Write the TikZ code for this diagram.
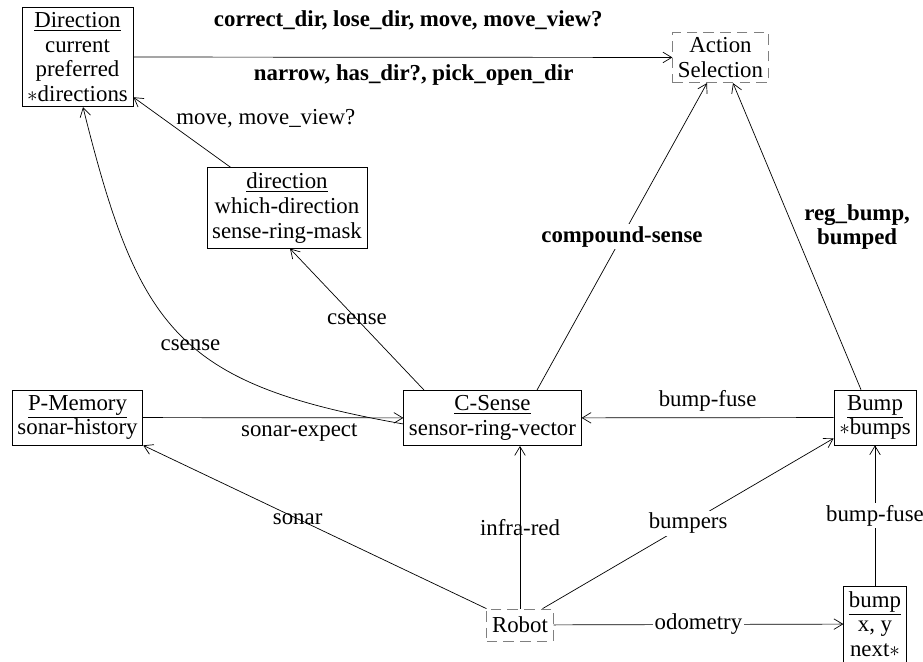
\documentclass[tikz,border=0pt]{standalone}
\usepackage{fontspec}
\setmainfont{Liberation Serif}
\usetikzlibrary{arrows.meta}

\begin{document}
\begin{tikzpicture}[>={Straight Barb[length=5pt,width=6pt]},
    module/.style={rectangle,draw=black,align=center,inner sep=3pt,font=\fontsize{13}{14}\selectfont},
    extmodule/.style={module,draw=gray,dash pattern=on 6pt off 3.5pt},
    lbl/.style={font=\fontsize{13}{14}\selectfont},
    boldlbl/.style={font=\fontsize{13}{14}\selectfont\bfseries},
    blank/.style={fill=white,inner sep=1pt}]
      \useasboundingbox (0,0) rectangle (18.46,13.24);
      % main modules
      \node[module] (dir) at (1.55,12.10) {\underline{Direction}\\ current\\ preferred\\ $\ast$directions};
      \node[module] (ddir) at (5.74,9.08) {\underline{direction}\\ which-direction\\ sense-ring-mask};
      \node[extmodule] (act) at (14.41,12.09) {Action\\ Selection};
      \node[module] (pmem) at (1.55,4.89) {\underline{P-Memory}\\ sonar-history};
      \node[module] (cs) at (9.85,4.88) {\underline{C-Sense}\\ sensor-ring-vector};
      \node[module] (bump) at (17.5,4.89) {\underline{Bump}\\ $\ast$bumps};
      \node[extmodule,minimum height=0.64cm] (robot) at (10.4,0.74) {Robot};
      \node[module] (sbump) at (17.5,0.76) {\underline{bump}\\ x, y\\ next$\ast$};

      % to action selection
      \draw[->] (dir) -- (act) node[boldlbl,pos=0.51,above=0.42cm] {correct\_dir, lose\_dir, move, move\_view?}
                               node[boldlbl,pos=0.52,below=0.03cm] {narrow, has\_dir?, pick\_open\_dir};
      \draw[->] ([xshift=0.89cm]cs.north) -- ([xshift=-0.27cm]act.south) node[boldlbl,blank,midway] {compound-sense};
      \draw[->] ([xshift=-0.28cm]bump.north) -- ([xshift=0.25cm]act.south) node[boldlbl,pos=0.53,right=0.1cm,align=center] {reg\_bump,\\ bumped};

      % direction
      \draw[->] (ddir) -- (dir) node[lbl,pos=0.7,right=0.15cm] {move, move\_view?};
      \draw[->] ([xshift=-1.37cm]cs.north) -- ([xshift=0.06cm]ddir.south) node[lbl,midway] {csense};
      \draw[->] ([yshift=-0.12cm]cs.west) to[out=170,in=-76,looseness=1.3] node[lbl,pos=0.46] {csense} ([xshift=0.11cm]dir.south);

      % sensing
      \draw[->] (pmem) -- (cs) node[lbl,pos=0.6,below] {sonar-expect};
      \draw[->] (bump) -- (cs) node[lbl,midway,above] {bump-fuse};
      \draw[->] (robot.north west) -- (pmem.south east) node[lbl,pos=0.55] {sonar};
      \draw[->] (robot.north) -- (robot.north |- cs.south) node[lbl,midway] {infra-red};
      \draw[->] ([xshift=-0.22cm]robot.north east) -- ([yshift=0.14cm]bump.south west) node[lbl,blank,midway] {bumpers};
      \draw[->] (robot) -- (sbump) node[lbl,blank,midway] {odometry};
      \draw[->] (sbump) -- (bump) node[lbl,blank,midway] {bump-fuse};
\end{tikzpicture}
\end{document}
